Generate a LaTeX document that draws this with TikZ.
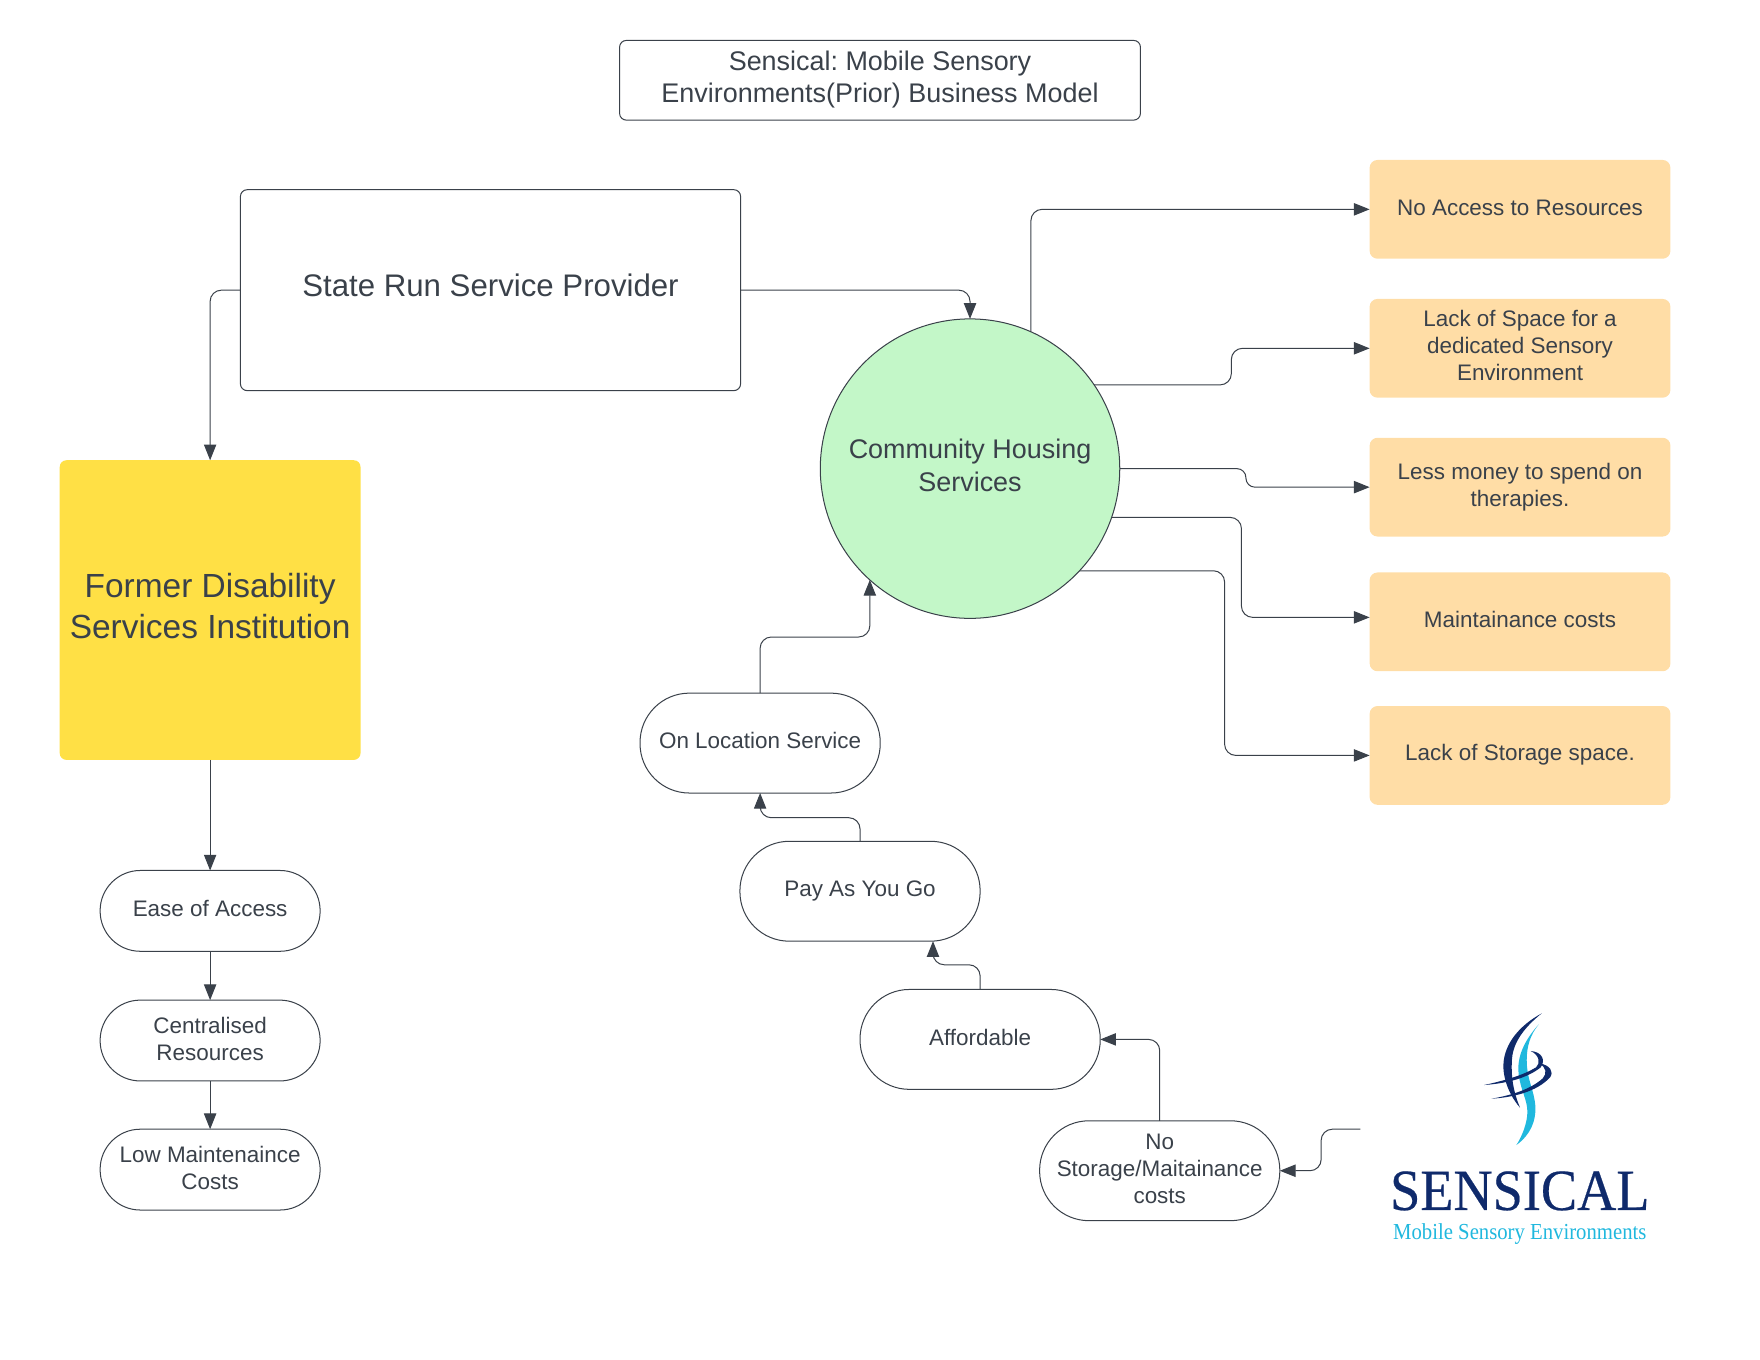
\documentclass[tikz,border=0pt]{standalone}
\usepackage{fontspec}
\setmainfont{Liberation Sans}
\newfontfamily\logofont[FakeStretch=0.93,FakeBold=0.4]{Liberation Serif}
\newfontfamily\tagfont[FakeStretch=0.905]{Liberation Serif}
\usetikzlibrary{arrows.meta}
\definecolor{ink}{HTML}{3A414A}
\definecolor{lineink}{HTML}{3A414A}
\definecolor{sunny}{HTML}{FFE045}
\definecolor{peach}{HTML}{FFDDA6}
\definecolor{mint}{HTML}{C3F7C8}
\definecolor{navy}{HTML}{0F2A6B}
\definecolor{sky}{HTML}{20B8DE}
\newcommand\lift[2]{\raisebox{#1}[\height][\depth]{\begin{tabular}{@{}c@{}}#2\end{tabular}}}
\tikzset{
  x=0.5pt,y=-0.5pt,
  base/.style={inner sep=0pt,outer sep=0pt,text=ink,align=center,line width=0.45pt,draw=lineink},
  titlebox/.style={base,rounded corners=3pt,minimum width=232pt,minimum height=35.5pt,font=\fontsize{12}{14}\selectfont},
  bigbox/.style={base,rounded corners=3pt,minimum width=222.8pt,minimum height=89.5pt,font=\fontsize{13.9}{17}\selectfont},
  yellowbox/.style={base,draw=none,fill=sunny,rounded corners=3pt,minimum width=134pt,minimum height=133.5pt,font=\fontsize{14.9}{18}\selectfont},
  disc/.style={base,circle,fill=mint,minimum size=133.4pt,font=\fontsize{12}{14.5}\selectfont},
  peachbox/.style={base,draw=none,fill=peach,rounded corners=3.5pt,minimum width=134pt,minimum height=44pt,font=\fontsize{10}{12}\selectfont},
  smallpill/.style={base,rounded corners=17.9pt,minimum width=98pt,minimum height=36pt,font=\fontsize{10}{12}\selectfont},
  widepill/.style={base,rounded corners=22pt,minimum width=107pt,minimum height=44.5pt,font=\fontsize{10}{12}\selectfont},
  link/.style={draw=lineink,line width=0.45pt,rounded corners=5pt,-{Triangle[length=7pt,width=5.5pt,fill=lineink]}},
}
\begin{document}
\frenchspacing
\begin{tikzpicture}
\useasboundingbox (0,0) rectangle (1568,1211.6);
\node[titlebox] (title) at (784,71.5) {\lift{0pt}{Sensical: Mobile Sensory\\Environments(Prior) Business Model}};
\node[bigbox] (state) at (437,258.5) {\lift{0.5pt}{State Run Service Provider}};
\node[yellowbox] (former) at (187.2,543.5) {\lift{0pt}{Former Disability\\Services Institution}};
\node[disc] (circ) at (864.2,417.5) {\lift{0pt}{Community Housing\\Services}};
\node[peachbox] (p1) at (1354.2,186.5) {\lift{-0.5pt}{No Access to Resources}};
\node[peachbox] (p2) at (1354.2,310.3) {\lift{0pt}{Lack of Space for a\\dedicated Sensory\\Environment}};
\node[peachbox] (p3) at (1354.2,434) {\lift{0pt}{Less money to spend on\\therapies.}};
\node[peachbox] (p4) at (1354.2,554) {\lift{0pt}{Maintainance costs}};
\node[peachbox] (p5) at (1354.2,673) {\lift{0pt}{Lack of Storage space.}};
\node[smallpill] (ease) at (187.2,811.5) {\lift{-0.3pt}{Ease of Access}};
\node[smallpill] (central) at (187.2,927) {\lift{-0.3pt}{Centralised\\Resources}};
\node[smallpill] (low) at (187.2,1042) {\lift{-0.3pt}{Low Maintenaince\\Costs}};
\node[widepill] (onloc) at (677.2,662) {\lift{0pt}{On Location Service}};
\node[widepill] (pay) at (766.2,794) {\lift{0pt}{Pay As You Go}};
\node[widepill] (afford) at (873.2,926) {\lift{-0.3pt}{Affordable}};
\node[widepill] (nostore) at (1033.2,1043) {\lift{0pt}{No\\Storage/Maitainance\\costs}};
\coordinate (logoend) at (1212,1006);

\draw[link] (state.west) -| (former.north);
\draw[link] (state.east) -| (circ.north);
\draw[link] (circ.66) |- (p1.west);
\draw[link] (circ.34.2) -- (1097,0 |- circ.34.2) -- (1097,0 |- p2.west) -- (p2.west);
\draw[link,rounded corners=4pt] (circ.0) -- (1110,0 |- circ.0) -- (1110,0 |- p3.west) -- (p3.west);
\draw[link] (circ.-19) -- (1106,0 |- circ.-19) -- (1106,550) -- ([yshift=2pt]p4.west);
\draw[link] (circ.-43) -- (1091,0 |- circ.-43) -- (1091,0 |- p5.west) -- (p5.west);
\draw[link] (onloc.north) -- ++(0,-50) -| (circ.228.8);
\draw[link] (pay.north) -- ++(0,-21) -| (onloc.south);
\draw[link] (afford.north) -- ++(0,-22) -| ([xshift=32.5pt]pay.south);
\draw[link] (nostore.north) |- (afford.east);
\draw[link] (logoend) -- (1177,0 |- logoend) -- (1177,0 |- nostore.east) -- (nostore.east);
\draw[link] (former.south) -- (ease.north);
\draw[link] (ease.south) -- (central.north);
\draw[link] (central.south) -- (low.north);

% logo
\begin{scope}[shift={(1158.2,873.1)},x=0.1485pt,y=-0.1485pt]
  \fill[sky] (716,133) .. controls (665,190) and (650,240) .. (656,285) .. controls (662,330) and (682,360) .. (682,395) .. controls (682,430) and (665,470) .. (649,495) .. controls (690,465) and (708,425) .. (706,380) .. controls (703,330) and (680,300) .. (680,240) .. controls (680,200) and (690,165) .. (716,133) -- cycle;
  \fill[navy] (725,100) .. controls (660,135) and (612,190) .. (610,255) .. controls (609,305) and (635,355) .. (660,383) .. controls (640,335) and (632,290) .. (636,235) .. controls (640,185) and (675,140) .. (725,100) -- cycle;
  \fill[navy] (692,213) .. controls (725,215) and (738,240) .. (722,262) .. controls (680,295) and (620,310) .. (552,315) .. controls (620,300) and (670,285) .. (708,262) .. controls (722,250) and (718,225) .. (692,213) -- cycle;
  \fill[navy] (718,250) .. controls (750,255) and (762,275) .. (750,292) .. controls (710,335) and (640,352) .. (574,356) .. controls (640,345) and (695,325) .. (728,295) .. controls (742,280) and (738,262) .. (718,250) -- cycle;
\end{scope}
\node[inner sep=0pt,text=navy,font=\logofont\fontsize{26}{26}\selectfont] (logotext) at (1354,1061) {SENSICAL};
\node[inner sep=0pt,text=sky,font=\tagfont\fontsize{10.2}{11}\selectfont] (tagline) at (1354,1099.5) {Mobile Sensory Environments};
\end{tikzpicture}
\end{document}
